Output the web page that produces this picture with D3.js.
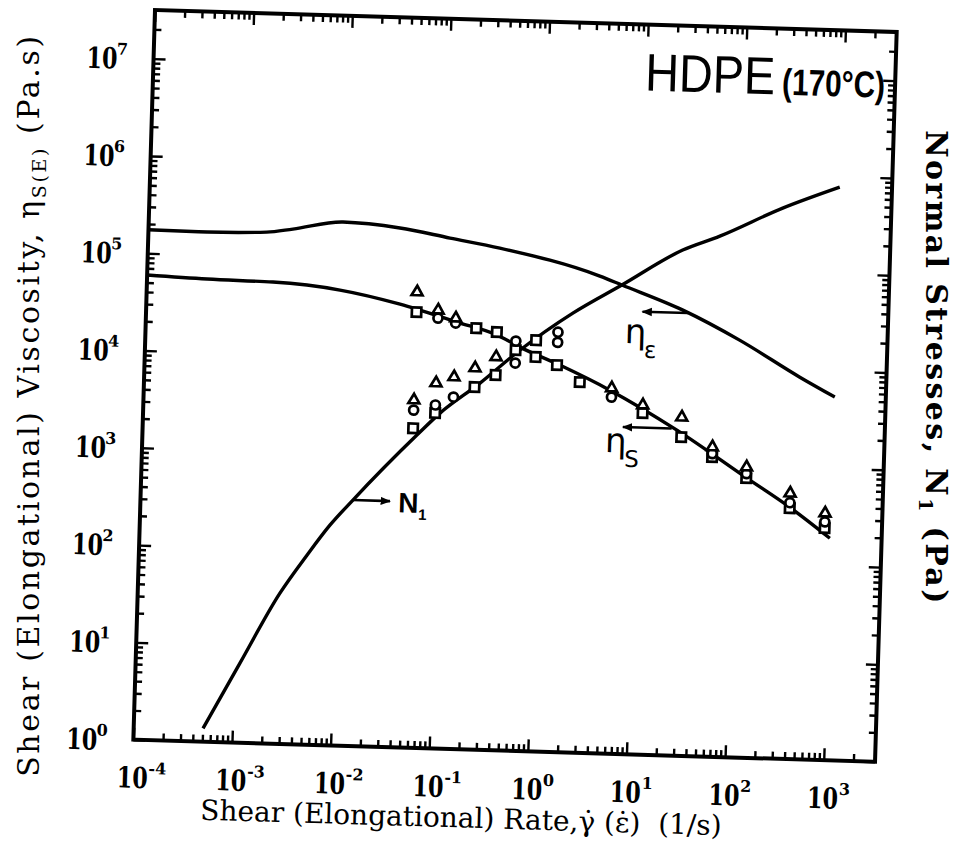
<!DOCTYPE html>
<html>
<head>
<meta charset="utf-8">
<script src="https://cdn.jsdelivr.net/npm/d3@7"></script>
<style>
body { margin: 0; background: #fff; }
text { fill: #000; }
</style>
</head>
<body>
<script>
//----------------------------------------- data -------------------------------------------

// curves: shear / elongational rate (1/s) and value
var etaE_rate = [1e-4, 3.93e-4, 1.58e-3, 2.9e-3, 9.3e-3, 3.52e-2, 0.114, 0.367, 3.86, 6.49, 27.4, 105, 439, 1007];
var etaE_val  = [1.74e5, 1.72e5, 1.79e5, 1.96e5, 2.40e5, 2.17e5, 1.77e5, 1.445e5, 8.0e4, 6.58e4, 3.79e4, 1.94e4, 8.43e3, 5.4e3];

var etaS_rate = [1e-4, 4.07e-4, 1.89e-3, 9.08e-3, 3.72e-2, 0.142, 0.364, 0.627, 1.61, 5.27, 25.9, 137, 380, 989];
var etaS_val  = [5.97e4, 5.66e4, 5.52e4, 4.79e4, 3.58e4, 2.44e4, 1.85e4, 1.41e4, 9.48e3, 5.43e3, 2.21e3, 746, 386, 191];

var n1_rate = [5.04e-4, 1.14e-3, 2.76e-3, 5.05e-3, 8.45e-3, 1.42e-2, 6.04e-2, 0.102, 0.254, 0.628, 2.11, 6.49, 26.2, 61.7, 262, 977];
var n1_val  = [1.37, 6.58, 35.4, 88.5, 183, 337, 1640, 2800, 5850, 1.31e4, 3.27e4, 6.58e4, 1.57e5, 2.24e5, 4.54e5, 7.76e5];

// measured points, viscosity
var sqS_rate = [0.055, 0.224, 0.363, 0.912, 1.51, 2.60, 11.5, 28.8, 60, 135, 380, 870];
var sqS_val  = [3.0e4, 2.14e4, 1.98e4, 1.13e4, 9.46e3, 6.43e3, 3.23e3, 1.88e3, 1.20e3, 746, 378, 242];
var ciS_rate = [0.091, 0.138, 0.569, 5.5, 60, 135, 380, 870];
var ciS_val  = [2.64e4, 2.38e4, 1.62e4, 4.61e3, 1.30e3, 830, 430, 280];
var trS_rate = [0.055, 0.091, 0.138, 5.5, 11.5, 28.8, 60, 135, 380, 870];
var trS_val  = [4.82e4, 3.19e4, 2.67e4, 5.70e3, 3.90e3, 3.01e3, 1.52e3, 968, 538, 344];

// measured points, normal stress
var sqN_rate = [0.055, 0.091, 0.224, 0.363, 0.569, 0.912];
var sqN_val  = [1.92e3, 2.80e3, 5.31e3, 7.16e3, 1.31e4, 1.68e4];
var ciN_rate = [0.055, 0.091, 0.138, 0.569, 1.51, 1.51];
var ciN_val  = [2.95e3, 3.38e3, 4.13e3, 9.64e3, 2.06e4, 1.62e4];
var trN_rate = [0.055, 0.091, 0.138, 0.224, 0.363];
var trN_val  = [3.74e3, 5.69e3, 6.64e3, 8.32e3, 1.10e4];

var xExp = [-4, -3, -2, -1, 0, 1, 2, 3];
var yExp = [0, 1, 2, 3, 4, 5, 6, 7];

//----------------------------------------- SVG -------------------------------------------

var W = 742, H = 730;

var svg = d3.select("body")
  .append("svg")
  .attr("width", 959)
  .attr("height", 852);

// the scanned figure sits slightly tilted
var g = svg.append("g")
  .attr("transform", "translate(155,10) rotate(1.7)");

var x = d3.scaleLog().domain([1e-4, Math.pow(10, 3.52)]).range([0, W]);
var y = d3.scaleLog().domain([1, Math.pow(10, 7.5)]).range([H, 0]);

function logTicks(scale, margin) {
  var dom = scale.domain().map(Math.log10), major = [], minor = [];
  for (var d = Math.floor(dom[0]); d <= Math.ceil(dom[1]); d++) {
    for (var m = 1; m < 10; m++) {
      var v = m * Math.pow(10, d), lv = Math.log10(v);
      if (lv < dom[0] - 1e-9 || lv > dom[1] - margin) continue;
      if (m === 1) major.push(v); else minor.push(v);
    }
  }
  return { major: major, minor: minor };
}

var xt = logTicks(x, 0.05), yt = logTicks(y, 0.05);

function tickAxis(axis, vals, len, tr) {
  var a = g.append("g")
    .attr("transform", tr)
    .call(axis.tickValues(vals).tickSize(-len).tickSizeOuter(0).tickFormat(""));
  a.select(".domain").remove();
  a.selectAll(".tick line").attr("stroke", "#000").attr("stroke-width", 2.4);
}

tickAxis(d3.axisBottom(x), xt.minor, 7, "translate(0," + H + ")");
tickAxis(d3.axisBottom(x), xt.major, 12, "translate(0," + H + ")");
tickAxis(d3.axisTop(x), xt.minor, 7, "translate(0,0)");
tickAxis(d3.axisTop(x), xt.major, 12, "translate(0,0)");
tickAxis(d3.axisLeft(y), yt.minor, 7, "translate(0,0)");
tickAxis(d3.axisLeft(y), yt.major, 12, "translate(0,0)");
tickAxis(d3.axisRight(y), yt.minor, 7, "translate(" + W + ",0)");
tickAxis(d3.axisRight(y), yt.major, 12, "translate(" + W + ",0)");

g.append("rect")
  .attr("width", W).attr("height", H)
  .attr("fill", "none").attr("stroke", "#000").attr("stroke-width", 4);

//----------------------------------------- tick labels ------------------------------------

var lab = g.append("g").style("font-family", "'DejaVu Serif', serif").style("font-weight", "bold");

xExp.forEach(function(e) {
  var px = x(Math.pow(10, e));
  lab.append("text").attr("x", px).attr("y", H + 48)
    .attr("text-anchor", "middle").style("font-size", "29px")
    .attr("textLength", 31).attr("lengthAdjust", "spacingAndGlyphs").text("10");
  lab.append("text").attr("x", px + 16).attr("y", H + 34)
    .style("font-size", "16px").text(e);
});

yExp.forEach(function(e) {
  var py = y(Math.pow(10, e));
  lab.append("text").attr("x", -36).attr("y", py + 11)
    .attr("text-anchor", "end").style("font-size", "29px")
    .attr("textLength", 31).attr("lengthAdjust", "spacingAndGlyphs").text("10");
  lab.append("text").attr("x", -37).attr("y", py - 3)
    .style("font-size", "16px").text(e);
});

//----------------------------------------- curves ----------------------------------------

var line = d3.line()
  .x(function(d) { return x(d[0]); })
  .y(function(d) { return y(d[1]); })
  .curve(d3.curveMonotoneX);

[[etaE_rate, etaE_val], [etaS_rate, etaS_val], [n1_rate, n1_val]].forEach(function(s) {
  g.append("path")
    .datum(d3.zip(s[0], s[1]))
    .attr("d", line)
    .attr("fill", "none")
    .attr("stroke", "#000")
    .attr("stroke-width", 3.4)
    .attr("stroke-linejoin", "round");
});

//----------------------------------------- points ----------------------------------------

function points(rates, vals, type, size) {
  g.append("g").selectAll("path")
    .data(d3.zip(rates, vals))
    .enter().append("path")
    .attr("transform", function(d) { return "translate(" + x(d[0]) + "," + y(d[1]) + ")"; })
    .attr("d", d3.symbol().type(type).size(size))
    .attr("fill", "#fff")
    .attr("stroke", "#000")
    .attr("stroke-width", 2.7);
}

points(sqS_rate, sqS_val, d3.symbolSquare, 88);
points(sqN_rate, sqN_val, d3.symbolSquare, 88);
points(ciS_rate, ciS_val, d3.symbolCircle, 64);
points(ciN_rate, ciN_val, d3.symbolCircle, 64);
points(trS_rate, trS_val, d3.symbolTriangle, 52);
points(trN_rate, trN_val, d3.symbolTriangle, 52);

//----------------------------------------- annotations -----------------------------------

svg.append("defs").append("marker")
  .attr("id", "head")
  .attr("viewBox", "0 0 10 10").attr("refX", 9).attr("refY", 5)
  .attr("markerWidth", 4).attr("markerHeight", 4)
  .attr("orient", "auto-start-reverse")
  .append("path").attr("d", "M0,1L10,5L0,9Z").attr("fill", "#000");

var arrows = [
  { from: [30.9, 3.55e4], to: [10.7, 3.55e4] },
  { from: [22.9, 2290], to: [7.33, 2290] },
  { from: [0.0142, 337], to: [0.0337, 337] }
];

arrows.forEach(function(a) {
  g.append("line")
    .attr("x1", x(a.from[0])).attr("y1", y(a.from[1]))
    .attr("x2", x(a.to[0])).attr("y2", y(a.to[1]))
    .attr("stroke", "#000").attr("stroke-width", 2.6)
    .attr("marker-end", "url(#head)");
});

var etas = [
  { at: [7.2, 1.67e4], sub: "\u03b5" },
  { at: [4.9, 1250], sub: "S" }
];

etas.forEach(function(l) {
  var t = g.append("text")
    .attr("x", x(l.at[0])).attr("y", y(l.at[1]))
    .style("font-family", "'DejaVu Sans', sans-serif");
  t.append("tspan").style("font-size", "34px").text("\u03b7");
  t.append("tspan").attr("dy", 14).attr("dx", -2).style("font-size", "23px").text(l.sub);
});

var n1t = g.append("text")
  .attr("x", x(0.0409)).attr("y", y(261))
  .style("font-family", "'Liberation Sans', Arial, sans-serif")
  .style("font-weight", "bold");
n1t.append("tspan").style("font-size", "28px").text("N");
n1t.append("tspan").attr("dy", 7).style("font-size", "15px").text("1");

// title inside the frame
g.append("text").attr("x", 492).attr("y", 66)
  .attr("textLength", 130).attr("lengthAdjust", "spacingAndGlyphs")
  .style("font-family", "'Liberation Sans', Arial, sans-serif").style("font-size", "53px")
  .text("HDPE");
g.append("text").attr("x", 629).attr("y", 66)
  .attr("textLength", 103).attr("lengthAdjust", "spacingAndGlyphs")
  .style("font-family", "'Liberation Sans', Arial, sans-serif").style("font-size", "37px")
  .style("font-weight", "bold")
  .text("(170\u00b0C)");

//----------------------------------------- axis titles -----------------------------------

g.append("text")
  .attr("x", 69).attr("y", H + 78)
  .style("font-family", "'DejaVu Serif', serif").style("font-size", "28px")
  .style("white-space", "pre")
  .text("Shear (Elongational) Rate,\u03b3\u0307 (\u03b5\u0307)  (1/s)");

var yl = svg.append("text")
  .attr("transform", "translate(39,405) rotate(-90)")
  .attr("text-anchor", "middle")
  .style("font-family", "'DejaVu Serif', serif").style("font-size", "30px")
  .style("letter-spacing", "2.6px");
yl.append("tspan").text("Shear (Elongational) Viscosity, \u03b7");
yl.append("tspan").attr("dy", 7).style("font-size", "19px").text("S(E)");
yl.append("tspan").attr("dy", -7).text(" (Pa.s)");

var yr = svg.append("text")
  .attr("transform", "translate(926,368) rotate(90)")
  .attr("text-anchor", "middle")
  .style("font-family", "'DejaVu Serif', serif").style("font-size", "30px")
  .style("font-weight", "bold").style("letter-spacing", "2.4px");
yr.append("tspan").text("Normal Stresses, N");
yr.append("tspan").attr("dy", 7).style("font-size", "19px").text("1");
yr.append("tspan").attr("dy", -7).text(" (Pa)");
</script>
</body>
</html>
